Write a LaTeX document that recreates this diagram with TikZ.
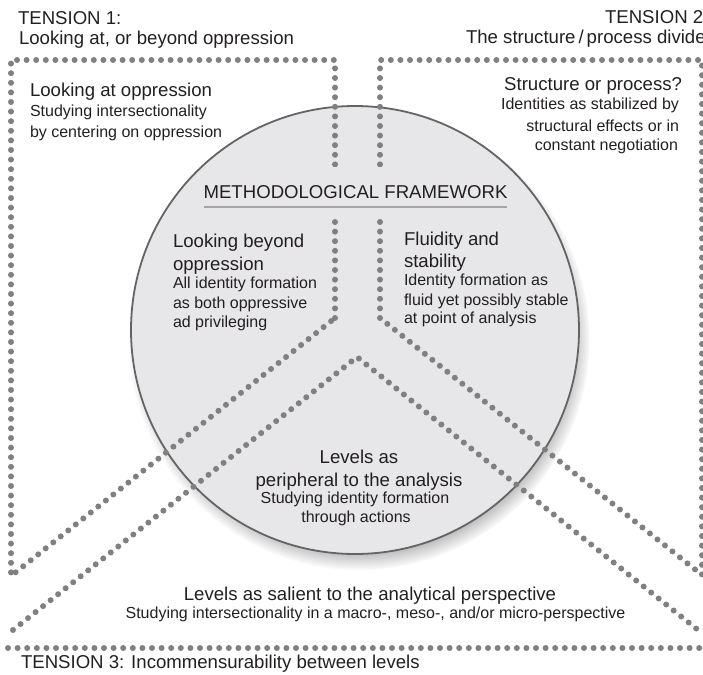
\documentclass[tikz,border=0pt]{standalone}
\usepackage{fontspec}
\setmainfont{Liberation Sans}
\usetikzlibrary{shadows}
\definecolor{dotc}{RGB}{128,128,130}
\definecolor{fillc}{RGB}{231,231,233}
\definecolor{edgec}{RGB}{100,100,100}
\definecolor{txt}{RGB}{35,31,32}
\definecolor{rulec}{RGB}{165,165,165}
\begin{document}
\begin{tikzpicture}[x=1pt,y=-1pt,
  every node/.style={inner sep=0pt, outer sep=0pt, text=txt},
  head/.style={font=\fontsize{18.6}{22}\selectfont},
  sub/.style={font=\fontsize{16}{20}\selectfont},
  dots/.style={draw=dotc, line width=6pt, line cap=round, dash pattern=on 0pt off 9.6pt},
  frame/.style={circle, minimum size=448pt, fill=fillc, draw=edgec, line width=1.8pt,
    circular drop shadow={shadow xshift=4pt, shadow yshift=-9pt, shadow scale=1.03, opacity=1}}]
\useasboundingbox (0,0) rectangle (703,674);
\clip (0,0) rectangle (703,674);
% circle
\node[frame] (frame) at (355,330) {};
% dotted regions
\draw[dots] (335,318) -- (335,60) -- (11,60) -- (11,576) -- cycle;
\draw[dots] (380,318) -- (380,60) -- (702,60) -- (702,575) -- cycle;
\draw[dots] (13,630) -- (357,357) -- (698,630);
\draw[dots] (8,648) -- (706,648);
% cover behind title
\fill[fillc] (322,167) rectangle (393,217);
% title
\node[head, anchor=base] (title) at (355.5,198) {METHODOLOGICAL FRAMEWORK};
\draw[rulec, line width=2.5pt] (title.south west |- 0,207) -- (title.south east |- 0,207);
% tension 1
\node[head, anchor=base west] (t1a) at (18,25) {TENSION 1:};
\node[head, anchor=base west] (t1b) at (19,45) {Looking at, or beyond oppression};
\node[head, anchor=base west] (t1c) at (30,97) {Looking at oppression};
\node[sub, anchor=base west] (t1d) at (30,117) {Studying intersectionality};
\node[sub, anchor=base west] (t1e) at (30,137) {by centering on oppression};
% tension 2
\node[head, anchor=base west] (t2a) at (605,24) {TENSION 2};
\node[head, anchor=base west] (t2b) at (466,44) {The structure\kern3pt/\kern3pt process divide};
\node[head, anchor=base east] (t2c) at (682,91) {Structure or process?};
\node[sub, anchor=base east] (t2d) at (679,110) {Identities as stabilized by};
\node[sub, anchor=base east] (t2e) at (679,131) {structural effects or in};
\node[sub, anchor=base east] (t2f) at (678,150) {constant negotiation};
% circle left
\node[head, anchor=base west] (l1) at (173,247) {Looking beyond};
\node[head, anchor=base west] (l2) at (173,270) {oppression};
\node[sub, anchor=base west] (l3) at (173,288) {All identity formation};
\node[sub, anchor=base west] (l4) at (173,308) {as both oppressive};
\node[sub, anchor=base west] (l5) at (173,327) {ad privileging};
% circle right
\node[head, anchor=base west] (r1) at (404,245) {Fluidity and};
\node[head, anchor=base west] (r2) at (404,267) {stability};
\node[sub, anchor=base west] (r3) at (404,285) {Identity formation as};
\node[sub, anchor=base west] (r4) at (404,305) {fluid yet possibly stable};
\node[sub, anchor=base west] (r5) at (404,323) {at point of analysis};
% circle bottom
\node[head, anchor=base] (b1) at (359,463) {Levels as};
\node[head, anchor=base] (b2) at (359,486) {peripheral to the analysis};
\node[sub, anchor=base] (b3) at (355,503) {Studying identity formation};
\node[sub, anchor=base] (b4) at (356,522) {through actions};
% tension 3
\node[head, anchor=base] (t3a) at (370,600) {Levels as salient to the analytical perspective};
\node[sub, anchor=base] (t3b) at (375.5,618) {Studying intersectionality in a macro-, meso-, and/or micro-perspective};
\node[head, anchor=base west] (t3c) at (21,668) {TENSION 3: Incommensurability between levels};
\end{tikzpicture}
\end{document}
